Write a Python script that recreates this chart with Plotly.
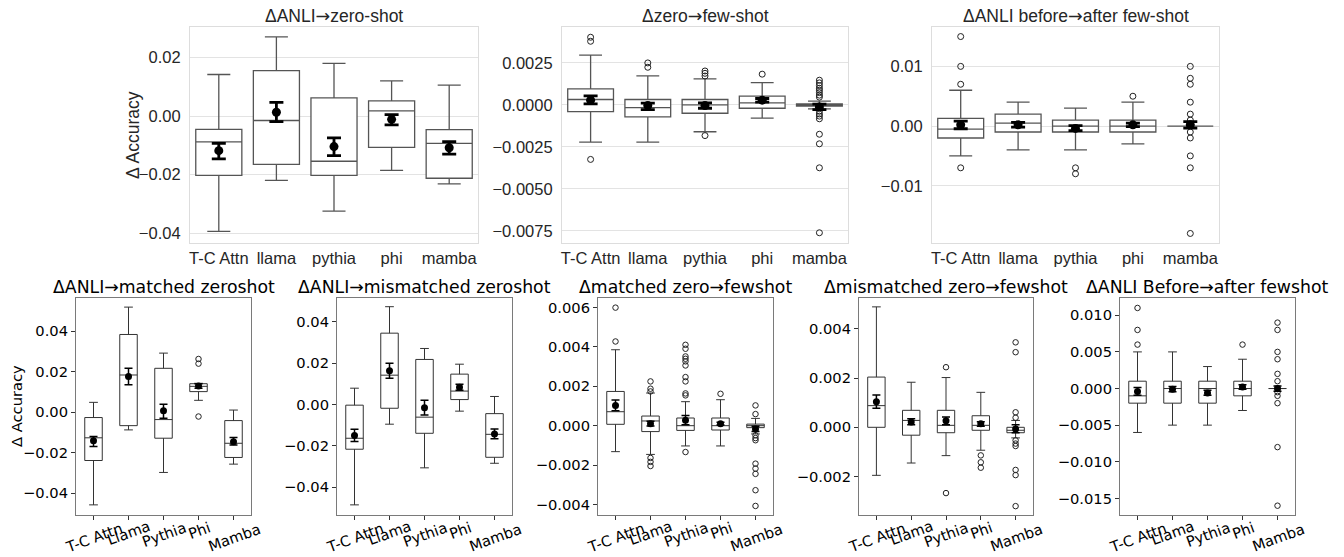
import plotly.graph_objects as go

W, H = 1344, 557

TOP_CATS = ["T-C Attn", "llama", "pythia", "phi", "mamba"]
BOT_CATS = ["T-C Attn", "Llama", "Pythia", "Phi", "Mamba"]

ARROW = '<span style="font-family:DejaVu Sans">→</span>'
TITLES = [
    "ΔANLI" + ARROW + "zero-shot", "Δzero" + ARROW + "few-shot",
    "ΔANLI before" + ARROW + "after few-shot",
    "ΔANLI→matched zeroshot", "ΔANLI→mismatched zeroshot", "Δmatched zero→fewshot",
    "Δmismatched zero→fewshot", "ΔANLI Before→after fewshot",
]

# ---------------- panel 1 : ΔANLI→zero-shot ----------------
P1_LO = [-0.0393, -0.0219, -0.0324, -0.0185, -0.0231]
P1_Q1 = [-0.0202, -0.0165, -0.0202, -0.0107, -0.0212]
P1_MED = [-0.0088, -0.0015, -0.0154, 0.0018, -0.0093]
P1_Q3 = [-0.0045, 0.0155, 0.0062, 0.0052, -0.0046]
P1_HI = [0.0142, 0.0270, 0.0180, 0.0120, 0.0106]
P1_MEAN = [-0.0118, 0.0013, -0.0104, -0.0011, -0.0108]
P1_CI_LO = [-0.0146, -0.0019, -0.0135, -0.0030, -0.0130]
P1_CI_HI = [-0.0093, 0.0047, -0.0074, 0.0005, -0.0087]
P1_OUT = [[], [], [], [], []]

# ---------------- panel 2 : Δzero→few-shot ----------------
P2_LO = [-0.00222, -0.00222, -0.0016, -0.00079, -0.00024]
P2_Q1 = [-0.0004, -0.00071, -0.0005, -0.0002, -0.00008]
P2_MED = [0.00032, -0.00016, 0.0, 0.00012, 0.0]
P2_Q3 = [0.00095, 0.00032, 0.00032, 0.00052, 0.00006]
P2_HI = [0.00296, 0.00173, 0.00155, 0.00133, 0.00022]
P2_MEAN = [0.00028, -0.00004, -0.00004, 0.00028, -0.00012]
P2_CI_LO = [0.00006, -0.00028, -0.0002, 0.00016, -0.00028]
P2_CI_HI = [0.00054, 0.0001, 0.00012, 0.00038, 0.00004]
P2_OUT = [
    [0.00403, 0.00379, -0.00325],
    [0.0025, 0.00224],
    [0.00202, 0.00188, 0.00172, -0.00183],
    [0.00183],
    [0.00147, 0.00131, 0.00115, 0.00099, 0.00087, 0.00073, 0.00058, 0.00046,
     -0.00038, -0.00054, -0.00067, -0.00083, -0.00175, -0.00232, -0.00375, -0.00762],
]

# ---------------- panel 3 : ΔANLI before→after few-shot ----------------
P3_LO = [-0.005, -0.004, -0.004, -0.003, 0.0]
P3_Q1 = [-0.002, -0.001, -0.001, -0.001, 0.0]
P3_MED = [-0.0005, 0.0005, 0.0, 0.0, 0.0]
P3_Q3 = [0.0013, 0.002, 0.001, 0.001, 0.0]
P3_HI = [0.006, 0.004, 0.003, 0.004, 0.0]
P3_MEAN = [0.0002, 0.0002, -0.0004, 0.0002, 0.0002]
P3_CI_LO = [-0.00045, -0.00017, -0.00078, -0.0001, -0.00034]
P3_CI_HI = [0.00084, 0.00061, 0.00006, 0.0005, 0.00073]
P3_OUT = [
    [0.015, 0.010, 0.007, -0.007],
    [],
    [-0.007, -0.008],
    [0.005],
    [0.010, 0.008, 0.007, 0.004, 0.002, 0.001, -0.001, -0.002, -0.005, -0.007, -0.018],
]

# ---------------- panel 4 : ΔANLI→matched zeroshot ----------------
P4_LO = [-0.0457, -0.0087, -0.0297, 0.0059, -0.0256]
P4_Q1 = [-0.0238, -0.0066, -0.0128, 0.0102, -0.0223]
P4_MED = [-0.0126, 0.0184, -0.0036, 0.0128, -0.0153]
P4_Q3 = [-0.0026, 0.0384, 0.0217, 0.0141, -0.0041]
P4_HI = [0.0049, 0.0519, 0.0292, 0.0143, 0.0011]
P4_MEAN = [-0.0140, 0.0176, 0.0007, 0.0130, -0.0145]
P4_CI_LO = [-0.0169, 0.0136, -0.0030, 0.0118, -0.0161]
P4_CI_HI = [-0.0120, 0.0217, 0.0039, 0.0141, -0.0125]
P4_OUT = [[], [], [], [0.0263, 0.0240, -0.0021], []]

# ---------------- panel 5 : ΔANLI→mismatched zeroshot ----------------
P5_LO = [-0.0485, -0.0095, -0.0306, -0.0032, -0.0284]
P5_Q1 = [-0.0216, -0.0018, -0.0139, 0.0024, -0.0255]
P5_MED = [-0.0163, 0.0142, -0.0061, 0.0065, -0.0144]
P5_Q3 = [-0.0003, 0.0345, 0.0218, 0.0147, -0.0044]
P5_HI = [0.0079, 0.0473, 0.0271, 0.0195, 0.0039]
P5_MEAN = [-0.0150, 0.0163, -0.0015, 0.0084, -0.0142]
P5_CI_LO = [-0.0179, 0.0127, -0.0050, 0.0069, -0.0165]
P5_CI_HI = [-0.0119, 0.0200, 0.0021, 0.0098, -0.0118]
P5_OUT = [[], [], [], [], []]

# ---------------- panel 6 : Δmatched zero→fewshot ----------------
P6_LO = [-0.00132, -0.00146, -0.00103, -0.00103, -0.00042]
P6_Q1 = [0.00007, -0.0003, -0.00024, -0.00022, -0.0001]
P6_MED = [0.00071, 0.00024, 0.0, 0.0, 0.0]
P6_Q3 = [0.00174, 0.00049, 0.00039, 0.00039, 0.00008]
P6_HI = [0.00386, 0.00166, 0.00122, 0.00132, 0.00037]
P6_MEAN = [0.00103, 0.0001, 0.00027, 0.0001, -0.00017]
P6_CI_LO = [0.00076, -0.00002, 0.00005, 0.00003, -0.00029]
P6_CI_HI = [0.0013, 0.00022, 0.00052, 0.00017, -0.00003]
P6_OUT = [
    [0.006, 0.00428],
    [0.00225, 0.00188, 0.00174, -0.00164, -0.00184, -0.00205],
    [0.00411, 0.00391, 0.00352, 0.0034, 0.00327, 0.00306, 0.00247, 0.00225,
     0.00164, 0.00154, -0.00134],
    [0.00162],
    [0.00103, 0.00059, -0.00049, -0.00063, -0.00074, -0.00193, -0.00218,
     -0.00245, -0.00328, -0.00408],
]

# ---------------- panel 7 : Δmismatched zero→fewshot ----------------
P7_LO = [-0.00195, -0.00145, -0.00115, -0.00093, -0.00043]
P7_Q1 = [0.0, -0.00032, -0.00022, -0.00012, -0.00022]
P7_MED = [0.00088, 0.00028, 0.00008, 0.00008, -0.00012]
P7_Q3 = [0.00204, 0.00069, 0.00069, 0.00047, 0.0]
P7_HI = [0.00489, 0.00183, 0.00202, 0.00142, 0.00028]
P7_MEAN = [0.00104, 0.00022, 0.00027, 0.00014, -0.00007]
P7_CI_LO = [0.00077, 0.0001, 0.0001, 0.00004, -0.00022]
P7_CI_HI = [0.00131, 0.00035, 0.00042, 0.00023, 0.0001]
P7_OUT = [
    [],
    [],
    [0.00244, -0.00267],
    [-0.00114, -0.00142, -0.00164],
    [0.00345, 0.00305, 0.00061, 0.00039, -0.00053, -0.00066, -0.00076,
     -0.00173, -0.00194, -0.0032],
]

# ---------------- panel 8 : ΔANLI Before→after fewshot ----------------
P8_LO = [-0.006, -0.005, -0.005, -0.003, 0.0]
P8_Q1 = [-0.002, -0.002, -0.002, -0.001, 0.0]
P8_MED = [-0.001, 0.0, 0.0, 0.0, 0.0]
P8_Q3 = [0.001, 0.001, 0.001, 0.001, 0.0]
P8_HI = [0.005, 0.005, 0.003, 0.004, 0.0]
P8_MEAN = [-0.0004, -0.0001, -0.0006, 0.0002, 0.0]
P8_CI_LO = [-0.00091, -0.00045, -0.00091, -0.00009, -0.00036]
P8_CI_HI = [0.00014, 0.00027, -0.00023, 0.0005, 0.00036]
P8_OUT = [
    [0.011, 0.008, 0.006],
    [],
    [],
    [0.006],
    [0.009, 0.008, 0.005, 0.004, 0.002, 0.001, -0.0005, -0.001, -0.002, -0.008, -0.016],
]

PANELS = [
    (P1_LO, P1_Q1, P1_MED, P1_Q3, P1_HI, P1_MEAN, P1_CI_LO, P1_CI_HI, P1_OUT),
    (P2_LO, P2_Q1, P2_MED, P2_Q3, P2_HI, P2_MEAN, P2_CI_LO, P2_CI_HI, P2_OUT),
    (P3_LO, P3_Q1, P3_MED, P3_Q3, P3_HI, P3_MEAN, P3_CI_LO, P3_CI_HI, P3_OUT),
    (P4_LO, P4_Q1, P4_MED, P4_Q3, P4_HI, P4_MEAN, P4_CI_LO, P4_CI_HI, P4_OUT),
    (P5_LO, P5_Q1, P5_MED, P5_Q3, P5_HI, P5_MEAN, P5_CI_LO, P5_CI_HI, P5_OUT),
    (P6_LO, P6_Q1, P6_MED, P6_Q3, P6_HI, P6_MEAN, P6_CI_LO, P6_CI_HI, P6_OUT),
    (P7_LO, P7_Q1, P7_MED, P7_Q3, P7_HI, P7_MEAN, P7_CI_LO, P7_CI_HI, P7_OUT),
    (P8_LO, P8_Q1, P8_MED, P8_Q3, P8_HI, P8_MEAN, P8_CI_LO, P8_CI_HI, P8_OUT),
]

# ---------------- layout geometry (pixels) ----------------
GEOM = [  # left, right, top, bottom
    (190, 478, 27, 243), (562, 848, 27, 243), (932, 1219, 27, 243),
    (76, 251, 298, 515), (337, 512, 298, 515), (598, 773, 298, 515),
    (859, 1033, 298, 515), (1120, 1295, 298, 515),
]
BOT_LABEL_Y = [537, 532, 534, 530, 537]  # centre of rotated labels (px)
YRANGES = [
    (-0.0433, 0.0304), (-0.00823, 0.00464), (-0.0196, 0.0166),
    (-0.0507, 0.0564), (-0.0534, 0.0515), (-0.00454, 0.00649),
    (-0.00356, 0.00525), (-0.01727, 0.01236),
]
YTICKS = [
    ([0.02, 0.0, -0.02, -0.04], ".2f"),
    ([0.0025, 0.0, -0.0025, -0.005, -0.0075], ".4f"),
    ([0.01, 0.0, -0.01], ".2f"),
    ([0.04, 0.02, 0.0, -0.02, -0.04], ".2f"),
    ([0.04, 0.02, 0.0, -0.02, -0.04], ".2f"),
    ([0.006, 0.004, 0.002, 0.0, -0.002, -0.004], ".3f"),
    ([0.004, 0.002, 0.0, -0.002], ".3f"),
    ([0.010, 0.005, 0.0, -0.005, -0.010, -0.015], ".3f"),
]

TOP_FONT = "Liberation Sans, Arial, sans-serif"
BOT_FONT = "DejaVu Sans, sans-serif"

fig = go.Figure()
annotations = []
POS = [0, 1, 2, 3, 4]

for i, (lo, q1, med, q3, hi, mean, cil, cih, outs) in enumerate(PANELS):
    top = i < 3
    xn = "x" if i == 0 else f"x{i+1}"
    yn = "y" if i == 0 else f"y{i+1}"
    line_col = "#555555" if top else "#333333"
    fig.add_trace(go.Box(
        x=POS, q1=q1, median=med, q3=q3, lowerfence=lo, upperfence=hi,
        orientation="v", width=0.8 if top else 0.5, whiskerwidth=0.5,
        fillcolor="white", line=dict(color=line_col, width=1.3 if top else 1.0),
        boxpoints=False, showlegend=False, hoverinfo="skip", xaxis=xn, yaxis=yn,
    ))
    ox, oy = [], []
    for k, vals in enumerate(outs):
        for v in vals:
            ox.append(k)
            oy.append(v)
    if ox:
        fig.add_trace(go.Scatter(
            x=ox, y=oy, mode="markers", showlegend=False, hoverinfo="skip",
            marker=dict(symbol="circle-open", size=6 if top else 5.5,
                        color="#222222", line=dict(width=1)),
            xaxis=xn, yaxis=yn,
        ))
    fig.add_trace(go.Scatter(
        x=POS, y=mean, mode="markers", showlegend=False, hoverinfo="skip",
        marker=dict(color="black", size=9 if top else 7),
        error_y=dict(type="data", symmetric=False,
                     array=[h - m for h, m in zip(cih, mean)],
                     arrayminus=[m - l for m, l in zip(mean, cil)],
                     color="black", thickness=2.8 if top else 1.5,
                     width=7 if top else 4),
        xaxis=xn, yaxis=yn,
    ))

    l, r, t, b = GEOM[i]
    xdom = [l / W, r / W]
    ydom = [1 - b / H, 1 - t / H]
    tickvals, fmt = YTICKS[i]
    axkey = "" if i == 0 else str(i + 1)
    if top:
        xa = dict(domain=xdom, range=[-0.5, 4.5], anchor=yn, tickmode="array",
                  tickvals=POS, ticktext=TOP_CATS, showgrid=False, zeroline=False,
                  showline=True, mirror=True, linecolor="#dddddd", linewidth=1.2,
                  ticks="", ticklabelstandoff=0,
                  tickfont=dict(family=TOP_FONT, size=16.5, color="#262626"))
        ya = dict(domain=ydom, range=list(YRANGES[i]), anchor=xn, tickmode="array",
                  tickvals=tickvals, tickformat=fmt, showgrid=True, gridcolor="#e3e3e3",
                  gridwidth=1.2, zeroline=False, showline=True, mirror=True,
                  linecolor="#dddddd", linewidth=1.2, ticks="", ticklabelstandoff=5,
                  tickfont=dict(family=TOP_FONT, size=16.5, color="#262626"))
        annotations.append(dict(text=TITLES[i], x=(l + r) / 2 / W, y=1 - 16 / H,
                                xref="paper", yref="paper", showarrow=False,
                                xanchor="center", yanchor="middle",
                                font=dict(family=TOP_FONT, size=17.5, color="#262626")))
    else:
        xa = dict(domain=xdom, range=[-0.5, 4.5], anchor=yn, tickmode="array",
                  tickvals=POS, ticktext=[""] * 5, showgrid=False, zeroline=False,
                  showline=True, mirror=True, linecolor="#7a7a7a", linewidth=1,
                  ticks="outside", ticklen=4, tickcolor="#333333",
                  tickfont=dict(family=BOT_FONT, size=14.7, color="black"))
        ya = dict(domain=ydom, range=list(YRANGES[i]), anchor=xn, tickmode="array",
                  tickvals=tickvals, tickformat=fmt, showgrid=False, zeroline=False,
                  showline=True, mirror=True, linecolor="#7a7a7a", linewidth=1,
                  ticks="outside", ticklen=4, tickcolor="#333333",
                  tickfont=dict(family=BOT_FONT, size=14.7, color="black"))
        annotations.append(dict(text=TITLES[i], x=(l + r) / 2 / W, y=1 - 287 / H,
                                xref="paper", yref="paper", showarrow=False,
                                xanchor="center", yanchor="middle",
                                font=dict(family=BOT_FONT, size=17.3, color="black")))
        for k, lab in enumerate(BOT_CATS):
            annotations.append(dict(text=lab, x=k, y=1 - BOT_LABEL_Y[k] / H, xref=xn,
                                    yref="paper", showarrow=False, xanchor="center",
                                    yanchor="middle", textangle=-20,
                                    font=dict(family=BOT_FONT, size=14.7, color="black")))
    fig.update_layout({f"xaxis{axkey}": xa, f"yaxis{axkey}": ya})

annotations.append(dict(text="Δ Accuracy", x=133 / W, y=1 - 135 / H, xref="paper",
                        yref="paper", showarrow=False, textangle=-90,
                        xanchor="center", yanchor="middle",
                        font=dict(family=TOP_FONT, size=17.5, color="#262626")))
annotations.append(dict(text="Δ Accuracy", x=16 / W, y=1 - 406 / H, xref="paper",
                        yref="paper", showarrow=False, textangle=-90,
                        xanchor="center", yanchor="middle",
                        font=dict(family=BOT_FONT, size=14.7, color="black")))

fig.update_layout(
    width=W, height=H, margin=dict(l=0, r=0, t=0, b=0, autoexpand=False),
    paper_bgcolor="white", plot_bgcolor="white", showlegend=False,
    annotations=annotations,
)

fig.write_html("out.html", config={"displayModeBar": False},
               post_script="document.body.style.margin='0px';")
